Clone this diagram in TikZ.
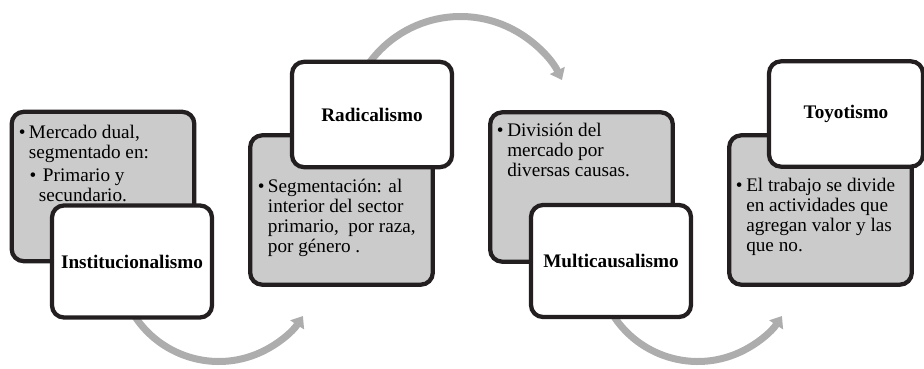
\documentclass[tikz,border=0pt]{standalone}
\usepackage{fontspec}
\setmainfont{Liberation Serif}
\usetikzlibrary{arrows.meta}
\definecolor{boxgray}{HTML}{CBCBCB}
\definecolor{boxline}{HTML}{231F20}
\definecolor{flowgray}{HTML}{ADADAD}
\tikzstyle{panel}=[rounded corners=9pt, line width=3.2pt, draw=boxline, fill=boxgray, minimum width=137pt, minimum height=112pt, inner sep=0]
\tikzstyle{heading}=[rounded corners=9pt, line width=3.2pt, draw=boxline, fill=white, minimum width=120pt, minimum height=84pt, inner sep=0, font=\fontsize{14.4}{15}\selectfont\bfseries]
\tikzstyle{bullets}=[anchor=north west, inner sep=0, align=left, font=\fontsize{14.4}{15}\selectfont]
\tikzstyle{curvearrow}=[flowgray, line width=5.25pt, -{Triangle[width=12pt, length=8pt]}]

\begin{document}
\begin{tikzpicture}[x=0.75pt, y=-0.75pt]
\useasboundingbox (0,0) rectangle (924,368);

\coordinate (a1) at (127.6,303.4);
\coordinate (a2) at (362.8,72.9);
\coordinate (a3) at (606.6,303.4);

\draw [curvearrow] (a1) arc[start angle=155, end angle=33.2, radius=100.6];
\draw [curvearrow] (a2) arc[start angle=210, end angle=334.1, radius=112.8];
\draw [curvearrow] (a3) arc[start angle=155, end angle=33.2, radius=100.6];

\node [panel] (g1) at (103,186.5) {};
\node [heading] (t1) at (132,261.5) {Institucionalismo};

\node [panel] (g2) at (341.5,210) {};
\node [heading, minimum height=79pt] (t2) at (372,114.5) {Radicalismo};

\node [panel] (g3) at (581.5,187) {};
\node [heading] (t3) at (611,261) {Multicausalismo};

\node [panel] (g4) at (820.5,210) {};
\node [heading, minimum width=115.5pt, minimum height=79pt] (t4) at (846,114) {Toyotismo};

\node [bullets] (b1) at (28.7,124.3) {\strut\llap{\textbullet\hspace{2.5pt}}Mercado dual,\\
  segmentado en:\\[2.5pt]
  \hspace*{5.6pt}\llap{\textbullet}\hspace*{4.9pt}Primario y\\
  \hspace*{7.5pt}secundario.};
\node [bullets] (b2) at (267.7,178.7) {\strut\llap{\textbullet\hspace{2.5pt}}Segmentación: al\\
  interior del sector\\
  primario,\ \ por raza,\\
  por género .};
\node [bullets] (b3) at (507,122.7) {\strut\llap{\textbullet\hspace{2.7pt}}División del\\
  mercado por\\
  diversas causas.};
\node [bullets] (b4) at (746,177.7) {\strut\llap{\textbullet\hspace{2.7pt}}El trabajo se divide\\
  en actividades que\\
  agregan valor y las\\
  que no.};

\end{tikzpicture}
\end{document}
